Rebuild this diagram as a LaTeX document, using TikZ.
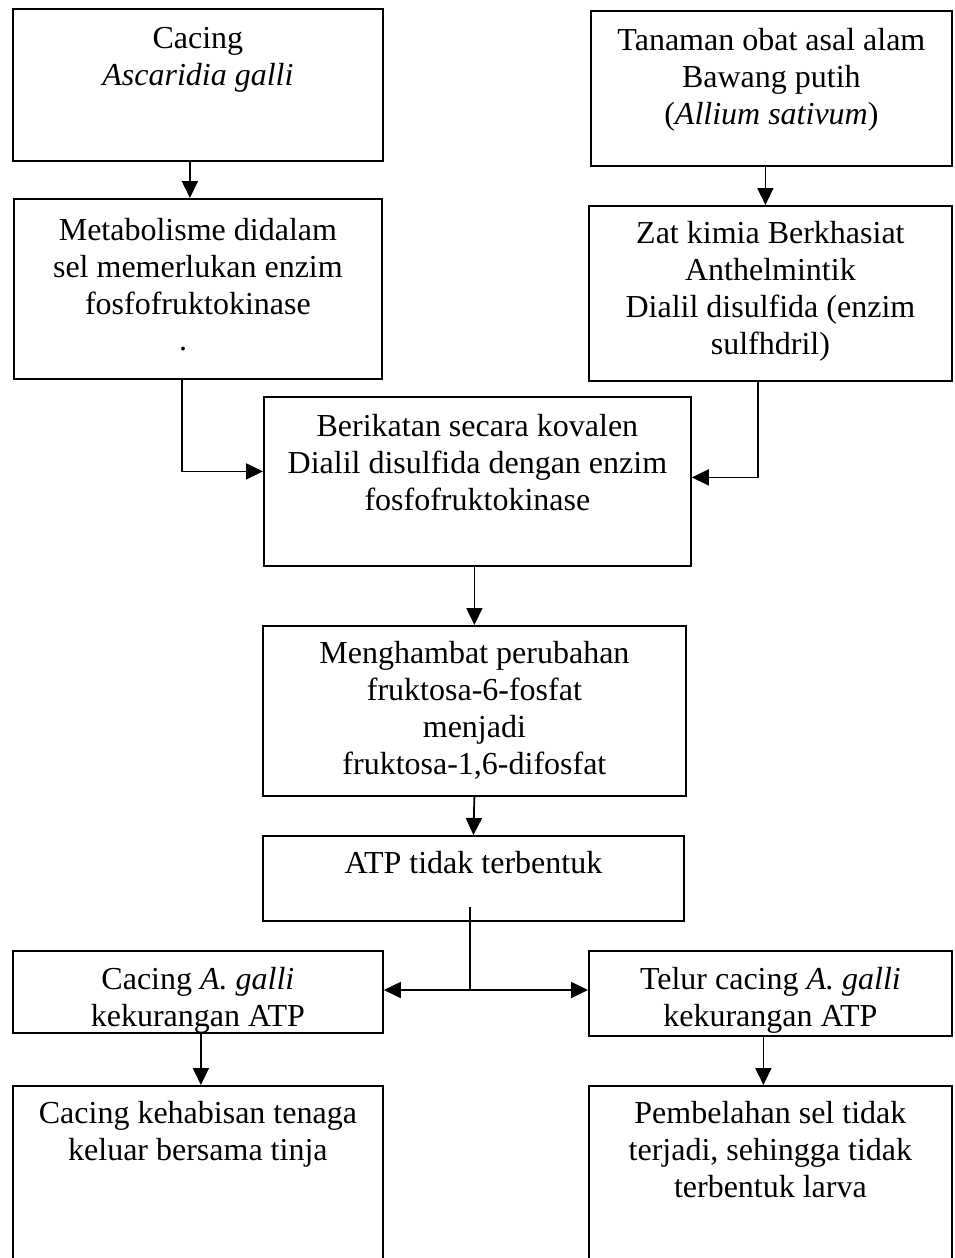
\documentclass[tikz,border=0pt]{standalone}
\usepackage{fontspec}
\setmainfont{Liberation Serif}
\usetikzlibrary{arrows.meta}
\tikzset{
  box/.style={draw, line width=1.8pt, anchor=north west, inner sep=0pt},
  txt/.style={anchor=north, align=center, inner sep=0pt, font=\fontsize{32}{37}\selectfont},
  arr/.style={line width=1.8pt, -{Triangle[length=17pt,width=16pt]}},
  ln/.style={line width=1.8pt}
}
\begin{document}
\begin{tikzpicture}[x=1pt,y=-1pt]
\useasboundingbox (0,0) rectangle (954,1258);
\clip (0,0) rectangle (954,1258);
% boxes
\node[box, minimum width=370pt, minimum height=152pt] (b1) at (12,8) {};
\node[box, minimum width=361pt, minimum height=155pt] (b2) at (590,10) {};
\node[box, minimum width=368pt, minimum height=180pt] (b3) at (13,198) {};
\node[box, minimum width=363pt, minimum height=175pt] (b4) at (588,205) {};
\node[box, minimum width=427pt, minimum height=169pt] (b5) at (263,396) {};
\node[box, minimum width=423pt, minimum height=170pt] (b6) at (262,625) {};
\node[box, minimum width=421pt, minimum height=85pt] (b7) at (262,835) {};
\node[box, minimum width=370pt, minimum height=82pt] (b8) at (12,950) {};
\node[box, minimum width=363pt, minimum height=85pt] (b9) at (588,950) {};
\node[box, minimum width=370pt, minimum height=200pt] (b10) at (12,1085) {};
\node[box, minimum width=363pt, minimum height=200pt] (b11) at (588,1085) {};
% texts
\node[txt] (t1) at ([yshift=-14pt]b1.north) {\strut Cacing\\\textit{Ascaridia galli}};
\node[txt] (t2) at ([yshift=-14pt]b2.north) {\strut Tanaman obat asal alam\\Bawang putih\\(\textit{Allium sativum})};
\node[txt] (t3) at ([yshift=-16pt]b3.north) {\strut Metabolisme didalam\\sel memerlukan enzim\\fosfofruktokinase};
\node[txt] (t3dot) at (183,347) {.};
\node[txt] (t4) at ([yshift=-12pt]b4.north) {\strut Zat kimia Berkhasiat\\Anthelmintik\\Dialil disulfida (enzim\\sulfhdril)};
\node[txt] (t5) at ([yshift=-14pt]b5.north) {\strut Berikatan secara kovalen\\Dialil disulfida dengan enzim\\fosfofruktokinase};
\node[txt] (t6) at ([yshift=-12pt]b6.north) {\strut Menghambat perubahan\\fruktosa-6-fosfat\\menjadi\\fruktosa-1,6-difosfat};
\node[txt] (t7) at ([yshift=-12pt]b7.north) {\strut ATP tidak terbentuk};
\node[txt] (t8) at ([yshift=-13pt]b8.north) {\strut Cacing \textit{A. galli}\\kekurangan ATP};
\node[txt] (t9) at ([yshift=-13pt]b9.north) {\strut Telur cacing \textit{A. galli}\\kekurangan ATP};
\node[txt] (t10) at ([yshift=-12pt]b10.north) {\strut Cacing kehabisan tenaga\\keluar bersama tinja};
\node[txt] (t11) at ([yshift=-12pt]b11.north) {\strut Pembelahan sel tidak\\terjadi, sehingga tidak\\terbentuk larva};
% connectors
\draw[arr] ([xshift=-8pt]b1.south) -- ([xshift=-8pt]b1.south |- b3.north);
\draw[arr] ([xshift=-6pt]b2.south) -- ([xshift=-6pt]b2.south |- b4.north);
\draw[arr] ([xshift=-16pt]b3.south) |- ([yshift=10pt]b5.west);
\draw[arr] ([xshift=-12.5pt]b4.south) |- ([yshift=4pt]b5.east);
\draw[arr] ([xshift=-3pt]b5.south) -- ([xshift=-3pt]b5.south |- b6.north);
\draw[arr] (b6.south) -- (b7.north);
\coordinate (j) at (470,990);
\draw[ln] ([yshift=15pt]b7.south -| j) -- (j);
\draw[arr] (j) -- (b8.east |- j);
\draw[arr] (j) -- (b9.west |- j);
\draw[arr] ([xshift=3pt]b8.south) -- ([xshift=3pt]b8.south |- b10.north);
\draw[arr] ([xshift=-7pt]b9.south) -- ([xshift=-7pt]b9.south |- b11.north);
\end{tikzpicture}
\end{document}
